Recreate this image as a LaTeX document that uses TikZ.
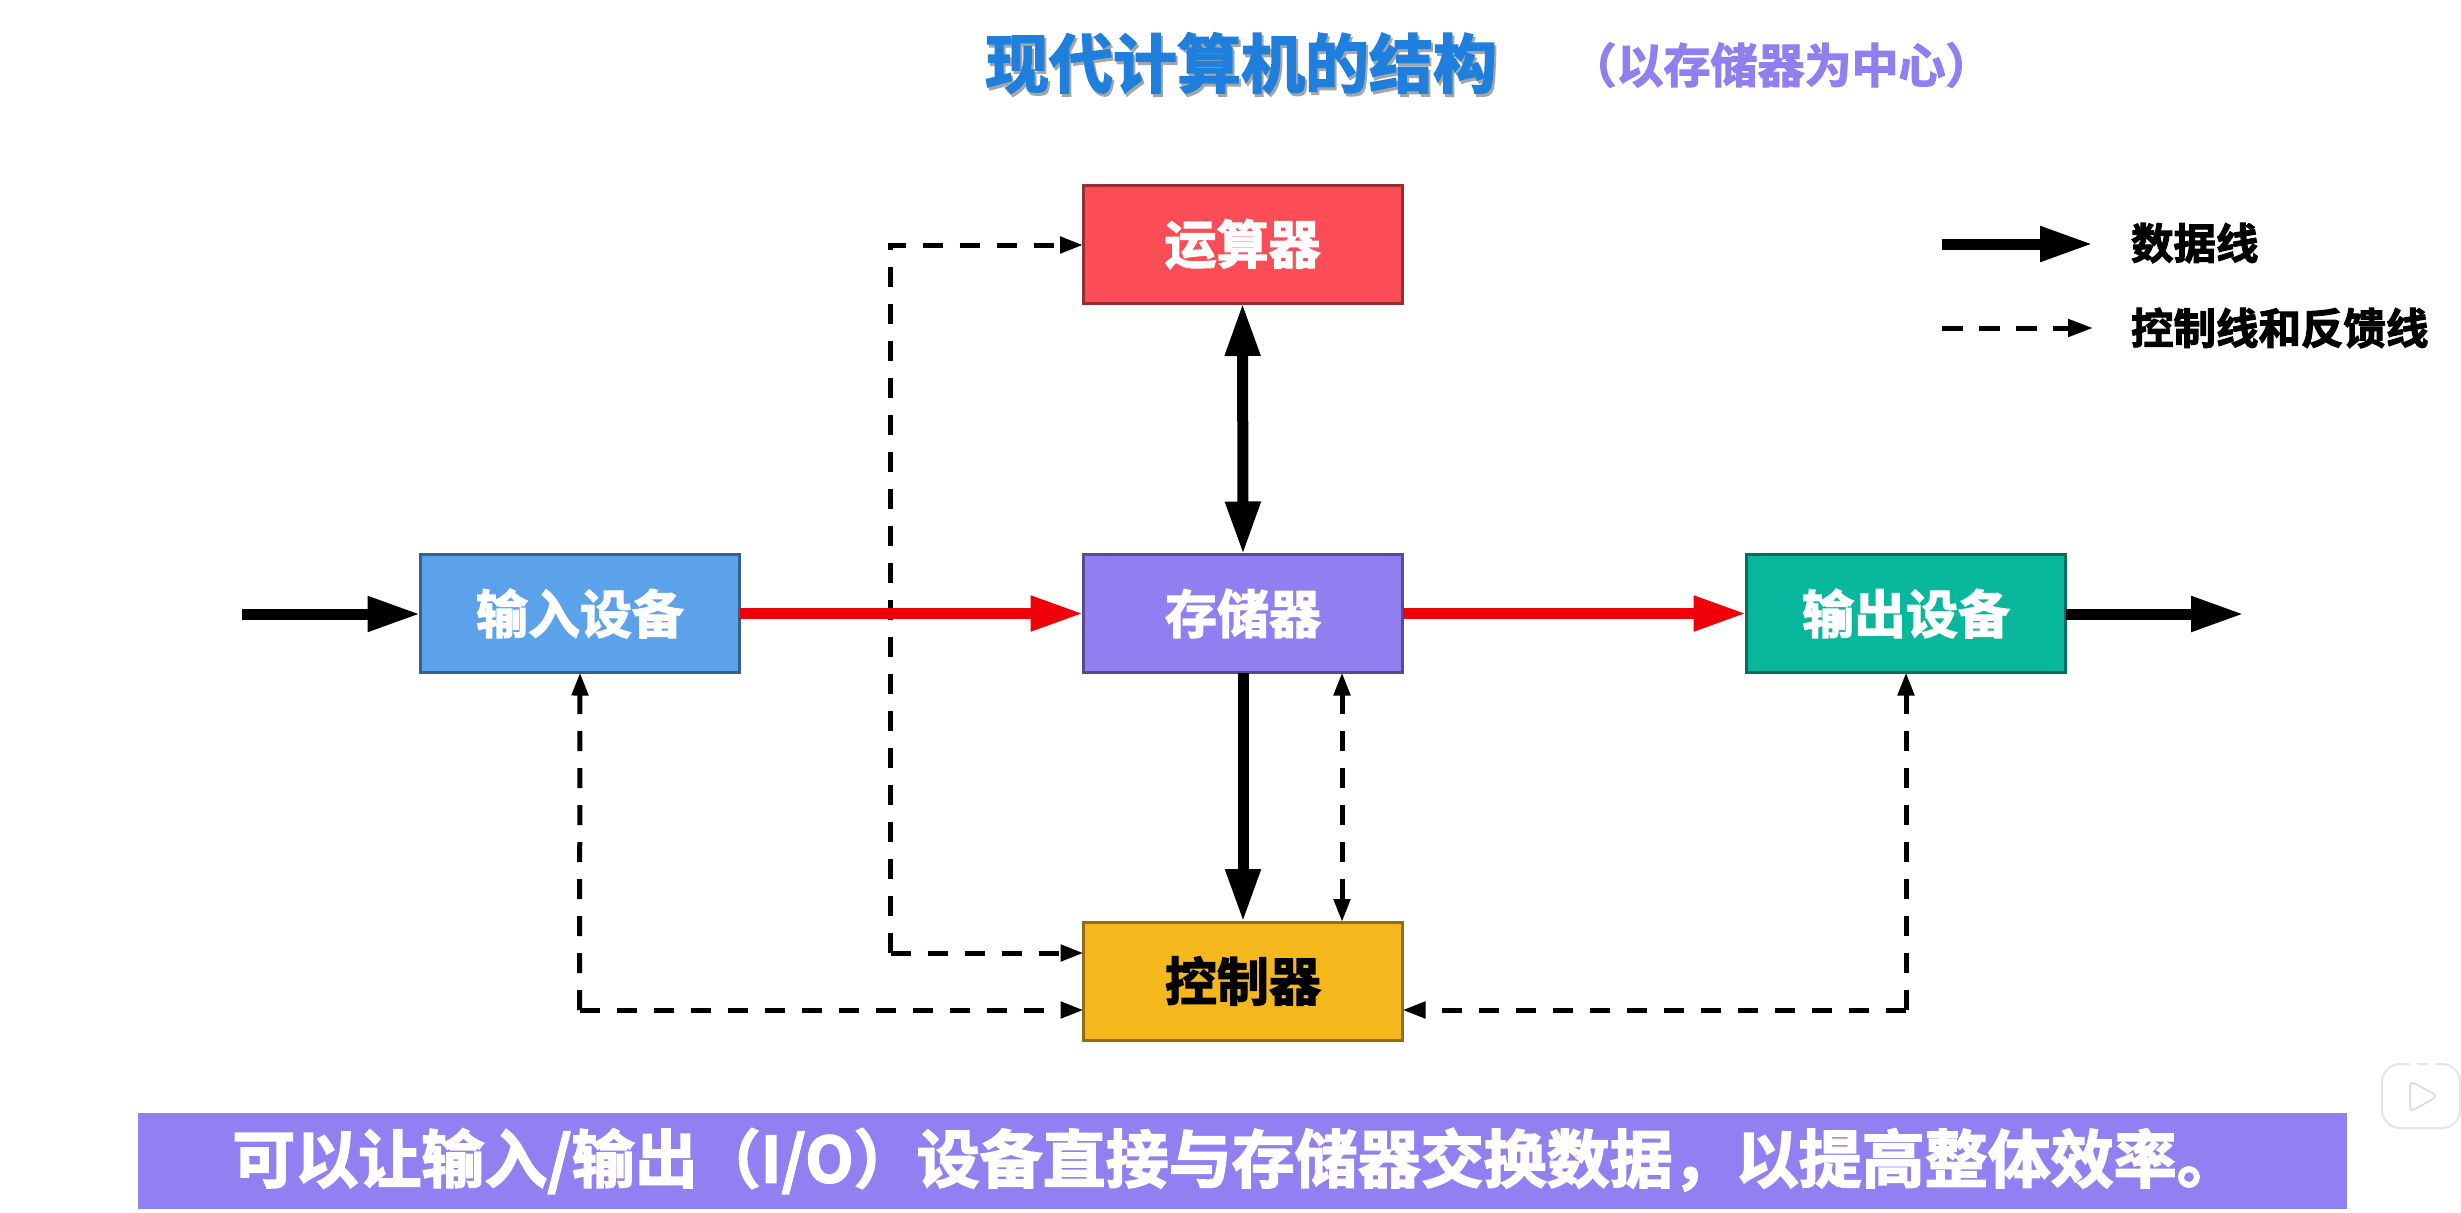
\documentclass[tikz,border=0pt]{standalone}
\usepackage{fontspec}
\usetikzlibrary{arrows.meta}
\setmainfont{Noto Sans CJK SC}[BoldFont={Noto Sans CJK SC Bold},BoldFeatures={FakeBold=2.5}]
\definecolor{cred}{HTML}{FC4C55}
\definecolor{cblue}{HTML}{5BA2EB}
\definecolor{cpurple}{HTML}{8F7FF0}
\definecolor{cgreen}{HTML}{09B89C}
\definecolor{cyellow}{HTML}{F4B71C}
\definecolor{ctitle}{HTML}{1E7FDD}
\definecolor{cband}{HTML}{9080F2}
\definecolor{cline}{HTML}{F00008}
\tikzset{
  every node/.style={inner sep=0pt,outer sep=0pt},
  blockbox/.style={draw=#1!60!black,fill=#1,line width=3pt,minimum width=319pt,minimum height=118pt,font=\fontsize{52}{60}\selectfont\bfseries,text=white},
  dataline/.style={draw=black,line width=11pt,-{Triangle[length=53pt,width=33pt]}},
  redline/.style={draw=cline,line width=11pt,-{Triangle[length=53pt,width=33pt,fill=cline]}},
  biline/.style={draw=black,line width=11pt,{Triangle[length=53pt,width=33pt]}-{Triangle[length=53pt,width=33pt]}},
  ctrl/.style={draw=black,line width=5pt,dash pattern=on 20pt off 17pt,-{Triangle[length=23pt,width=16pt]}},
  ctrlbi/.style={draw=black,line width=5pt,dash pattern=on 20pt off 17pt,{Triangle[length=23pt,width=16pt]}-{Triangle[length=23pt,width=16pt]}},
  legendtext/.style={anchor=west,font=\fontsize{42.5}{50}\selectfont\bfseries}
}
\begin{document}
\begin{tikzpicture}[x=1pt,y=-1pt]
\useasboundingbox (0,0) rectangle (2461,1213);
\fill[white] (0,0) rectangle (2461,1213);
% title
\node[anchor=center,text=black!35,font=\fontsize{64}{70}\selectfont\bfseries] (titleshadow) at (1243,66) {现代计算机的结构};
\node[anchor=center,text=ctitle,font=\fontsize{64}{70}\selectfont\bfseries] (title) at (1241,63) {现代计算机的结构};
\node[anchor=center,text=cpurple,font=\fontsize{47}{50}\selectfont\bfseries] (sub) at (1781,65) {（以存储器为中心）};
% blocks
\node[blockbox=cred] (alu) at (1242.5,244) {运算器};
\node[blockbox=cblue] (input) at (580,613.5) {输入设备};
\node[blockbox=cpurple] (mem) at (1243,613.5) {存储器};
\node[blockbox=cgreen] (output) at (1906,613.5) {输出设备};
\node[blockbox=cyellow,text=black] (ctl) at (1243,981) {控制器};
% free ends
\coordinate (inL) at (242,614);
\coordinate (outR) at (2244,614);
\coordinate (topC) at (890.5,245);
\coordinate (midC) at (890.5,953);
\coordinate (lowC) at (579.5,1010);
\coordinate (rightC) at (1906,1010);
% data lines
\draw[dataline] (inL) -- (input.west |- inL);
\draw[dataline] (output.east |- outR) -- (outR);
\draw[biline] (alu.south) -- (mem.north);
\draw[dataline] (mem.south) -- (ctl.north);
% control lines
\draw[ctrl] (midC) -- (topC) -- (alu.west |- topC);
\draw[ctrl] (midC) -- (ctl.west |- midC);
\draw[ctrlbi] (mem.south -| 1342,0) -- (ctl.north -| 1342,0);
\draw[ctrl] (lowC) -- (input.south);
\draw[ctrl] (lowC) -- (ctl.west |- lowC);
\draw[ctrl] (rightC) -- (output.south);
\draw[ctrl] (rightC) -- (ctl.east |- rightC);
% red lines above dashed
\draw[redline] (input.east) -- (mem.west);
\draw[redline] (mem.east) -- (output.west);
% legend
\coordinate (l1a) at (1942,244);
\coordinate (l1b) at (2093,244);
\coordinate (l2a) at (1942,328);
\coordinate (l2b) at (2093,328);
\draw[dataline] (l1a) -- (l1b);
\draw[ctrl,dash pattern=on 21pt off 16pt,-{Triangle[length=25pt,width=17pt]}] (l2a) -- (l2b);
\node[legendtext] (leg1) at (2131,243) {数据线};
\node[legendtext] (leg2) at (2131,328) {控制线和反馈线};
% band
\node[anchor=north west,fill=cband,minimum width=2209pt,minimum height=96pt] (band) at (138,1113) {};
\node[text=white,font=\fontsize{63}{70}\selectfont\bfseries] (bandtext) at (1236,1161) {可以让输入/输出（I/O）设备直接与存储器交换数据，以提高整体效率。};
% player watermark
\draw[black!10,line width=3pt,line cap=round] (2405,1052) -- (2415,1068) (2440,1052) -- (2430,1068);
\draw[black!10,fill=white,line width=2pt,rounded corners=18pt] (2382,1064) rectangle (2460,1128);
\draw[white,line width=6pt,line cap=round] (2405,1052) -- (2415,1066) (2440,1052) -- (2430,1066);
\draw[black!15,line width=1.5pt,rounded corners=5pt] (2410,1081) -- (2438,1096) -- (2410,1112) -- cycle;
\end{tikzpicture}
\end{document}
